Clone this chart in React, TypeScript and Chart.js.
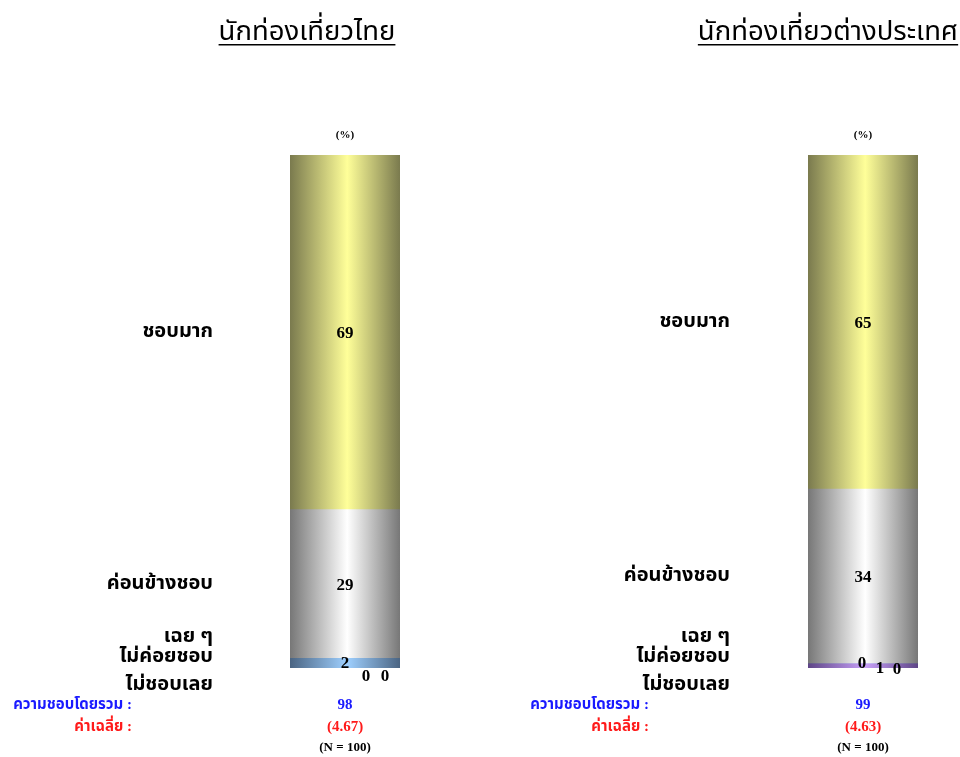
import React, { useEffect, useRef } from "react";
import { Chart, registerables } from "chart.js";

Chart.register(...registerables);

const categories = ["ชอบมาก", "ค่อนข้างชอบ", "เฉย ๆ", "ไม่ค่อยชอบ", "ไม่ชอบเลย"];
const thaiValues = [69, 29, 2, 0, 0];
const foreignValues = [65, 34, 0, 1, 0];
const panelTitles = ["นักท่องเที่ยวไทย", "นักท่องเที่ยวต่างประเทศ"];
const overallLike = ["98", "99"];
const meanScores = ["(4.67)", "(4.63)"];
const sampleSizes = ["(N = 100)", "(N = 100)"];
const overallLabel = "ความชอบโดยรวม :";
const meanLabel = "ค่าเฉลี่ย :";
const unitLabel = "(%)";

const edgeColors = ["#7a7a4e", "#777777", "#4a6482", "#5e4586", "#864848"];
const centerColors = ["#ffff99", "#ffffff", "#9fd0ff", "#c8a0f8", "#ffa0a0"];

const THAI_FONT = "'Liberation Serif', 'Noto Sans Thai', 'Tlwg Typo', serif";
const NUM_FONT = "'Liberation Serif'";

type PanelCfg = {
  left: number;
  width: number;
  padLeft: number;
  padRight: number;
  titleX: number;
  titleSize: number;
  catLabelX: number;
  sumLabelX: number;
  values: number[];
  idx: number;
  smallDx: number[];
  smallDy: number[];
};

const panels: PanelCfg[] = [
  { left: 0, width: 518, padLeft: 290, padRight: 118, titleX: 307, titleSize: 27.5, catLabelX: 213, sumLabelX: 132, values: thaiValues, idx: 0, smallDx: [0, 21, 40], smallDy: [1, 9, 9] },
  { left: 518, width: 442, padLeft: 290, padRight: 42, titleX: 310, titleSize: 27.5, catLabelX: 212, sumLabelX: 131, values: foreignValues, idx: 1, smallDx: [-1, 17, 34], smallDy: [1, 3, 2] },
];

function makePlugin(cfg: PanelCfg) {
  return {
    id: "panelDecor" + cfg.idx,
    afterDraw(chart: any) {
      const ctx = chart.ctx as CanvasRenderingContext2D;
      const area = chart.chartArea;
      const yScale = chart.scales.y;
      const cx = (area.left + area.right) / 2;
      ctx.save();
      // title
      ctx.fillStyle = "#000";
      ctx.font = `${cfg.titleSize}px ${THAI_FONT}`;
      ctx.textAlign = "center";
      ctx.textBaseline = "alphabetic";
      const title = panelTitles[cfg.idx];
      ctx.fillText(title, cfg.titleX, 40);
      const tw = ctx.measureText(title).width;
      ctx.fillRect(cfg.titleX - tw / 2, 44, tw, 1.5);
      // unit
      ctx.font = `bold 11px ${NUM_FONT}`;
      ctx.textBaseline = "middle";
      ctx.fillText(unitLabel, cx, 135);
      // segment geometry
      let acc = 0;
      const mids: number[] = [];
      cfg.values.forEach((v) => {
        const t = yScale.getPixelForValue(acc);
        const b = yScale.getPixelForValue(acc + v);
        mids.push((t + b) / 2);
        acc += v;
      });
      // category labels with overlap avoidance (bottom up)
      const gaps = [26, 26, 20, 28];
      const ys: number[] = new Array(categories.length);
      ys[categories.length - 1] = area.bottom + 17;
      for (let i = categories.length - 2; i >= 0; i--) {
        ys[i] = Math.min(mids[i], ys[i + 1] - gaps[i]);
      }
      ctx.font = `bold 20px ${THAI_FONT}`;
      ctx.textAlign = "right";
      ctx.textBaseline = "middle";
      categories.forEach((c, i) => ctx.fillText(c, cfg.catLabelX, ys[i]));
      // data labels
      ctx.font = `bold 17px ${NUM_FONT}`;
      ctx.textAlign = "center";
      cfg.values.forEach((v, i) => {
        if (i < 2) {
          ctx.fillText(String(v), cx, mids[i] + 2);
        } else {
          ctx.fillText(String(v), cx + cfg.smallDx[i - 2], mids[i] + cfg.smallDy[i - 2]);
        }
      });
      // summary
      ctx.font = `bold 15px ${THAI_FONT}`;
      ctx.textAlign = "right";
      ctx.fillStyle = "#1a1aff";
      ctx.fillText(overallLabel, cfg.sumLabelX, 705);
      ctx.fillStyle = "#ff1a1a";
      ctx.fillText(meanLabel, cfg.sumLabelX, 727);
      ctx.textAlign = "center";
      ctx.font = `bold 15px ${NUM_FONT}`;
      ctx.fillStyle = "#1a1aff";
      ctx.fillText(overallLike[cfg.idx], cx, 705);
      ctx.fillStyle = "#ff1a1a";
      ctx.fillText(meanScores[cfg.idx], cx, 727);
      ctx.fillStyle = "#000";
      ctx.font = `bold 13px ${NUM_FONT}`;
      ctx.fillText(sampleSizes[cfg.idx], cx, 748);
      ctx.restore();
    },
  };
}

function Panel({ cfg }: { cfg: PanelCfg }) {
  const ref = useRef<HTMLCanvasElement>(null);
  useEffect(() => {
    if (!ref.current) return;
    const chart = new Chart(ref.current, {
      type: "bar",
      data: {
        labels: [panelTitles[cfg.idx]],
        datasets: categories.map((c, i) => ({
          label: c,
          data: [cfg.values[i]],
          barPercentage: 1,
          categoryPercentage: 1,
          borderWidth: 0,
          backgroundColor: (context: any) => {
            const a = context.chart.chartArea;
            if (!a) return centerColors[i];
            const g = context.chart.ctx.createLinearGradient(a.left, 0, a.right, 0);
            g.addColorStop(0, edgeColors[i]);
            g.addColorStop(0.52, centerColors[i]);
            g.addColorStop(1, edgeColors[i]);
            return g;
          },
        })),
      },
      options: {
        animation: false,
        responsive: false,
        maintainAspectRatio: false,
        layout: { padding: { left: cfg.padLeft, right: cfg.padRight, top: 155, bottom: 89 } },
        plugins: { legend: { display: false }, tooltip: { enabled: false }, title: { display: false } },
        scales: {
          x: { stacked: true, display: false },
          y: { stacked: true, display: false, min: 0, max: 100, reverse: true },
        },
      },
      plugins: [makePlugin(cfg)],
    });
    return () => chart.destroy();
  }, [cfg]);
  return (
    <canvas
      ref={ref}
      width={cfg.width}
      height={757}
      style={{ position: "absolute", left: cfg.left, top: 0, width: cfg.width, height: 757 }}
    />
  );
}

export default function App() {
  return (
    <div style={{ position: "absolute", left: 0, top: 0, width: 960, height: 757, background: "#fff" }}>
      {panels.map((p) => (
        <Panel key={p.idx} cfg={p} />
      ))}
    </div>
  );
}
